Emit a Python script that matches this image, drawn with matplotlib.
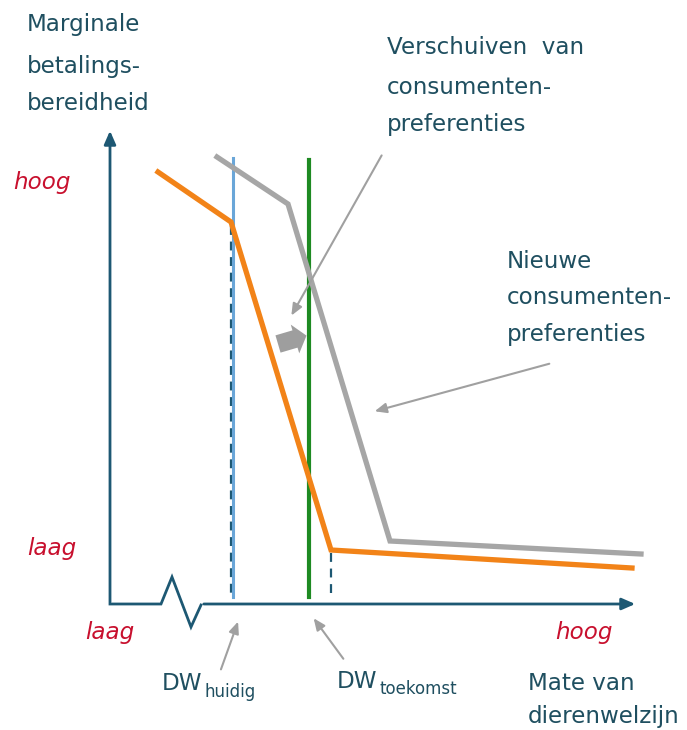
import matplotlib.pyplot as plt
from matplotlib.patches import FancyArrow

# canvas units = pixels of the reference picture (y grows downward)
W, H = 687, 730

# demand curves (vertices)
huidig_x = [158, 231, 331, 632]
huidig_y = [172, 222, 550, 568]
nieuw_x = [217, 288, 390, 641]
nieuw_y = [157, 204, 541, 554]

# vertical markers
dw_huidig_x = 233
dw_toekomst_x = 309
marker_top = [158, 160]
marker_bottom = 597

# axes
y_axis_x = 110
x_axis_y = 604
y_axis_top = 128
x_axis_right = 638
zigzag_x = [110, 161, 172, 191, 201]
zigzag_y = [604, 604, 577, 627, 605]

teal = '#1d5873'
text_col = '#1f4f60'
red = '#c8102e'
orange = '#f28318'
grey = '#a6a6a6'

fig = plt.figure(figsize=(W / 100, H / 100), dpi=100)
ax = fig.add_axes([0, 0, 1, 1])
ax.set_xlim(0, W)
ax.set_ylim(H, 0)
ax.axis('off')

# y axis with arrow
ax.annotate('', xy=(y_axis_x, y_axis_top), xytext=(y_axis_x, x_axis_y + 1),
            arrowprops=dict(arrowstyle='-|>,head_length=0.8,head_width=0.35',
                            color=teal, lw=2))
# x axis with break
ax.plot(zigzag_x, zigzag_y, color=teal, lw=2, solid_joinstyle='miter')
ax.annotate('', xy=(x_axis_right, x_axis_y), xytext=(zigzag_x[-1], x_axis_y),
            arrowprops=dict(arrowstyle='-|>,head_length=0.8,head_width=0.35',
                            color=teal, lw=2))

# dashed drop lines
ax.plot([dw_huidig_x - 2, dw_huidig_x - 2], [huidig_y[1] + 4, marker_bottom],
        color=teal, lw=1.6, ls=(0, (4, 3)))
ax.plot([huidig_x[2], huidig_x[2]], [huidig_y[2] + 3, marker_bottom],
        color=teal, lw=1.6, ls=(0, (4, 3)))

# vertical markers
ax.plot([dw_huidig_x, dw_huidig_x], [marker_top[0], marker_bottom],
        color='#6aa6d8', lw=2.2)
ax.plot([dw_toekomst_x, dw_toekomst_x], [marker_top[1], marker_bottom],
        color='#1e8a22', lw=3)

# curves
ax.plot(nieuw_x, nieuw_y, color=grey, lw=3.8, solid_joinstyle='miter')
ax.plot(huidig_x, huidig_y, color=orange, lw=3.8, solid_joinstyle='miter')

# fat shift arrow
ax.add_patch(FancyArrow(278, 344, 17, -5, width=18, head_width=30,
                        head_length=12, color='#9e9e9e', lw=0))

# thin grey pointer arrows
pointers = [((383, 153), (290, 318)),
            ((552, 363), (372, 412)),
            ((220, 672), (239, 619)),
            ((345, 661), (312, 616))]
for tail, tip in pointers:
    ax.annotate('', xy=tip, xytext=tail,
                arrowprops=dict(arrowstyle='-|>,head_length=0.7,head_width=0.3',
                                color='#a0a0a0', lw=1.5))

fs = 16.6
# text blocks
for s, y in zip(['Marginale', 'betalings-', 'bereidheid'], [25, 67, 103]):
    ax.text(27, y, s, fontsize=fs, color=text_col, va='center', ha='left')
for s, y in zip(['Verschuiven  van', 'consumenten-', 'preferenties'], [48, 88, 125]):
    ax.text(387, y, s, fontsize=fs, color=text_col, va='center', ha='left')
for s, y in zip(['Nieuwe', 'consumenten-', 'preferenties'], [262, 298, 334]):
    ax.text(507, y, s, fontsize=fs, color=text_col, va='center', ha='left')
for s, y in zip(['Mate van', 'dierenwelzijn'], [683, 717]):
    ax.text(528, y, s, fontsize=fs, color=text_col, va='center', ha='left')

# level labels
ax.text(13, 183, 'hoog', fontsize=fs, color=red, style='italic', va='center')
ax.text(27, 548, 'laag', fontsize=fs, color=red, style='italic', va='center')
ax.text(85, 632, 'laag', fontsize=fs, color=red, style='italic', va='center')
ax.text(555, 632, 'hoog', fontsize=fs, color=red, style='italic', va='center')

# DW labels
ax.text(162, 684, 'DW', fontsize=fs, color=text_col, va='center')
ax.text(204, 692, 'huidig', fontsize=12, color=text_col, va='center')
ax.text(337, 681, 'DW', fontsize=fs, color=text_col, va='center')
ax.text(379, 689, 'toekomst', fontsize=12, color=text_col, va='center')

fig.savefig('out.png', dpi=100)
